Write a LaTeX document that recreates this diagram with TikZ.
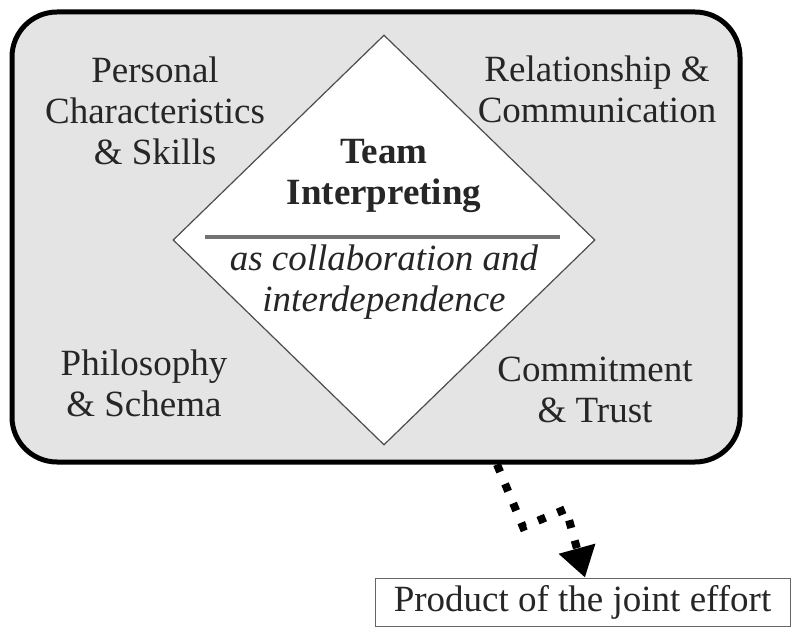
\documentclass[tikz,border=0pt]{standalone}
\usepackage{fontspec}
\setmainfont{Liberation Serif}
\usetikzlibrary{shapes.geometric,arrows.meta}
\definecolor{panelfill}{gray}{0.895}
\definecolor{inktext}{gray}{0.15}
\tikzset{
  label text/.style={align=center, text=inktext, font=\fontsize{37}{41}\selectfont, inner sep=0pt},
  panel box/.style={draw=black, line width=5pt, fill=panelfill, rounded corners=45pt, inner sep=0pt},
  core diamond/.style={diamond, draw=black!70, line width=1.2pt, fill=white, inner sep=0pt, aspect=1},
  divider/.style={draw=black!55, line width=3.5pt},
  joint arrow/.style={line width=8pt, dash pattern=on 8pt off 13pt, line cap=butt,
    -{Triangle[length=30pt,width=36pt]}},
  result box/.style={draw=black!60, line width=0.8pt, fill=white, inner sep=0pt}
}
\begin{document}
\begin{tikzpicture}[x=1pt,y=-1pt]
\useasboundingbox (0,0) rectangle (792,628);

% outer panel
\node[panel box, minimum width=728pt, minimum height=450pt] (panel) at (376,237) {};

% central diamond
\node[core diamond, minimum width=422pt, minimum height=410pt] (core) at (384,240) {};
\coordinate (divL) at (205,237);
\coordinate (divR) at (560,237);
\draw[divider] (divL) -- (divR);

\node[label text, font=\fontsize{37}{41}\selectfont\bfseries] (title) at (384,176) {Team\\Interpreting};
\node[label text, font=\fontsize{37}{41}\selectfont\itshape] (subtitle) at (384,282) {as collaboration and\\interdependence};

% four corner themes
\node[label text] (personal) at (155,111) {Personal\\Characteristics\\\& Skills};
\node[label text] (relation) at (597,89) {Relationship \&\\Communication};
\node[label text] (philo) at (144,383) {Philosophy\\\& Schema};
\node[label text] (commit) at (595,390) {Commitment\\\& Trust};

% outcome
\node[result box, minimum width=415pt, minimum height=48pt, label text] (product) at (582.5,602) {Product of the joint effort};

% dotted connector
\coordinate (startx) at (497,0);
\coordinate (tipx) at (585,0);
\coordinate (bend1) at (523,527);
\coordinate (bend2) at (566,509);
\draw[joint arrow] (startx |- panel.south) -- (bend1) -- (bend2) -- (tipx |- product.north);
\end{tikzpicture}
\end{document}
